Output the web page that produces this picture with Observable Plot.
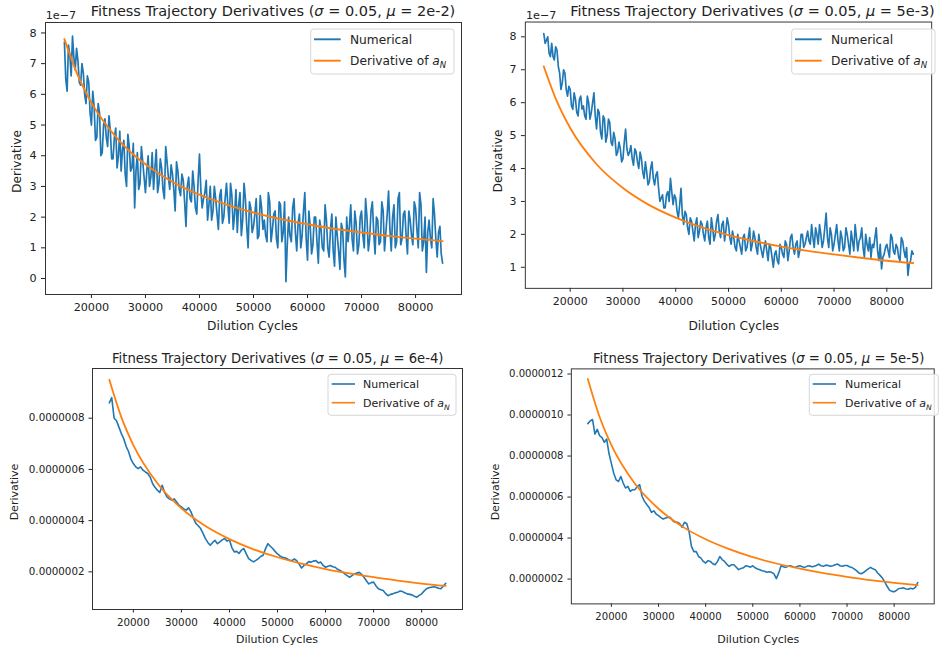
<!DOCTYPE html>
<html><head><meta charset="utf-8">
<script src="https://cdn.jsdelivr.net/npm/d3@7"></script>
<script src="https://cdn.jsdelivr.net/npm/@observablehq/plot@0.6"></script>
<style>
html,body{margin:0;padding:0;background:#fff;}
#fig{position:relative;width:940px;height:649px;overflow:hidden;background:#fff;font-family:"DejaVu Sans",sans-serif;}
.panel{position:absolute;}
#overlay{position:absolute;left:0;top:0;pointer-events:none;}
</style></head><body><div id="fig"></div>
<script>
// Dilution cycles sampled for the numerical derivative
const cycles = [
15000,15500,16000,16500,17000,17500,18000,18500,19000,19500,
20000,20500,21000,21500,22000,22500,23000,23500,24000,24500,
25000,25500,26000,26500,27000,27500,28000,28500,29000,29500,
30000,30500,31000,31500,32000,32500,33000,33500,34000,34500,
35000,35500,36000,36500,37000,37500,38000,38500,39000,39500,
40000,40500,41000,41500,42000,42500,43000,43500,44000,44500,
45000,45500,46000,46500,47000,47500,48000,48500,49000,49500,
50000,50500,51000,51500,52000,52500,53000,53500,54000,54500,
55000,55500,56000,56500,57000,57500,58000,58500,59000,59500,
60000,60500,61000,61500,62000,62500,63000,63500,64000,64500,
65000,65500,66000,66500,67000,67500,68000,68500,69000,69500,
70000,70500,71000,71500,72000,72500,73000,73500,74000,74500,
75000,75500,76000,76500,77000,77500,78000,78500,79000,79500,
80000,80500,81000,81500,82000,82500,83000,83500,84000,84500,
85000];
// extra in-between samples (used by the two noisy top panels)
const cyclesMid = [
15250,15750,16250,16750,17250,17750,18250,18750,19250,19750,
20250,20750,21250,21750,22250,22750,23250,23750,24250,24750,
25250,25750,26250,26750,27250,27750,28250,28750,29250,29750,
30250,30750,31250,31750,32250,32750,33250,33750,34250,34750,
35250,35750,36250,36750,37250,37750,38250,38750,39250,39750,
40250,40750,41250,41750,42250,42750,43250,43750,44250,44750,
45250,45750,46250,46750,47250,47750,48250,48750,49250,49750,
50250,50750,51250,51750,52250,52750,53250,53750,54250,54750,
55250,55750,56250,56750,57250,57750,58250,58750,59250,59750,
60250,60750,61250,61750,62250,62750,63250,63750,64250,64750,
65250,65750,66250,66750,67250,67750,68250,68750,69250,69750,
70250,70750,71250,71750,72250,72750,73250,73750,74250,74750,
75250,75750,76250,76750,77250,77750,78250,78750,79250,79750,
80250,80750,81250,81750,82250,82750,83250,83750,84250,84750];
// cycles for the analytic curve
const fitCycles = [15000,17500,20000,25000,30000,35000,40000,45000,50000,55000,60000,65000,70000,75000,80000,85000];
const xTickValues = [20000,30000,40000,50000,60000,70000,80000];

// values in units of 1e-7
const numerical_2e2 = [
7.7,6.1,7.3,7.9,6.8,7.1,6.3,6.7,5.7,6.4,
5.0,5.6,4.6,5.4,4.1,5.2,4.3,4.8,3.9,4.9,
4.0,3.5,4.5,3.0,4.3,3.6,2.3,4.1,3.1,3.8,
2.8,4.0,3.3,2.9,4.2,3.1,3.6,2.6,3.8,2.9,
3.4,2.2,3.5,2.7,3.2,1.7,3.3,2.5,3.0,2.1,
4.05,2.3,2.8,1.9,3.0,2.2,2.6,1.6,2.9,2.0,
3.1,1.8,2.7,2.1,1.5,2.8,1.9,2.6,1.0,2.3,
1.7,2.6,1.4,2.3,1.9,1.2,2.5,1.6,2.2,1.0,
2.4,1.5,-0.1,2.0,1.2,2.6,0.9,2.1,1.4,2.8,
0.6,1.7,1.1,2.0,0.5,1.6,0.9,1.9,0.7,2.1,
0.4,1.4,0.3,1.6,0.05,1.2,2.4,0.9,1.8,1.1,
2.2,1.0,2.0,1.3,2.5,0.8,1.9,1.2,2.2,1.5,
2.85,0.9,2.4,1.2,2.8,1.3,2.2,0.8,1.9,1.1,
2.3,1.0,2.4,1.2,0.2,1.9,1.0,2.1,0.7,1.7,
0.5];
const numericalMid_2e2 = [
6.5,7.6,6.6,7.2,7.5,6.4,7.0,6.0,6.6,5.4,
6.1,4.5,5.7,4.0,5.0,4.6,5.3,3.9,4.6,3.6,
4.8,4.2,3.4,4.7,3.5,4.4,3.5,2.9,4.3,3.3,
3.5,3.0,4.1,3.6,2.8,3.9,2.9,4.3,3.3,3.7,
2.9,3.8,2.9,3.4,2.5,3.0,2.6,3.5,2.3,3.2,
2.9,2.6,3.2,2.4,1.9,3.0,2.1,2.7,1.8,2.6,
2.4,3.1,1.6,2.9,2.4,1.4,3.1,1.7,2.5,1.5,
2.1,1.3,2.7,1.6,1.4,2.8,1.2,2.1,1.3,2.5,
1.2,2.5,1.1,1.4,2.3,1.5,1.8,1.0,2.2,1.3,
2.2,0.8,2.0,1.2,1.9,1.0,2.4,1.0,1.6,0.9,
2.0,0.9,1.8,0.6,2.0,1.7,1.3,2.2,0.8,2.0,
1.4,2.6,0.9,2.2,1.5,2.0,1.1,2.5,0.9,2.1,
1.6,2.0,1.0,2.6,1.1,2.1,1.4,2.2,1.4,2.5,
1.6,2.8,0.9,2.0,1.5,1.3,2.6,1.3,1.5,0.8];
const derivative_2e2 = [7.8,6.61,5.73,4.52,3.72,3.15,2.73,2.41,2.15,1.94,1.77,1.62,1.50,1.39,1.30,1.22];

const numerical_5e3 = [
8.1,7.9,7.5,7.8,7.3,7.6,6.9,6.6,6.9,6.2,
6.4,5.8,6.1,5.6,6.2,5.9,5.5,6.0,5.7,6.3,
5.2,5.7,4.9,5.5,5.0,5.4,4.7,4.9,4.5,4.6,
4.3,5.2,4.4,4.7,4.1,4.5,4.0,4.3,3.7,3.9,
3.6,4.2,3.5,3.9,3.0,3.2,2.8,3.3,3.7,2.9,
3.1,2.5,3.4,2.3,2.6,2.0,2.4,1.8,2.5,2.1,
2.3,1.8,2.4,1.7,2.2,2.0,2.6,1.9,2.4,2.1,
2.3,1.7,1.9,1.5,1.8,1.4,2.0,1.6,2.2,1.7,
1.9,1.4,1.7,1.3,1.8,1.2,1.6,1.0,1.5,1.1,
1.6,1.3,1.7,1.5,2.0,1.4,1.8,1.5,2.0,1.7,
2.1,1.7,1.9,2.2,1.7,2.0,1.8,2.65,1.6,2.0,
1.7,2.3,1.5,1.9,1.6,2.0,1.4,1.8,2.3,1.5,
1.9,1.6,2.0,1.5,1.3,1.6,2.2,1.2,0.95,1.4,
1.7,1.3,1.9,1.4,1.6,1.2,1.8,1.3,0.75,1.2,
1.4];
const numericalMid_5e3 = [
7.8,8.0,7.4,7.4,7.7,7.1,6.4,7.0,6.4,6.5,
5.9,6.3,5.7,6.1,5.8,5.6,6.2,5.5,6.0,5.6,
5.8,5.1,5.6,4.8,5.5,4.8,5.1,4.4,4.8,4.2,
4.8,4.6,4.5,4.3,4.6,4.2,4.5,3.9,4.2,3.5,
4.0,3.7,3.8,3.4,3.1,2.8,3.2,3.0,3.3,3.2,
2.7,2.9,2.6,2.7,2.2,2.5,2.1,2.3,1.9,2.4,
2.0,2.2,1.9,2.5,1.8,2.4,2.1,2.3,1.8,2.5,
1.9,2.1,1.6,2.0,1.6,1.9,1.5,1.9,1.5,2.1,
1.6,2.0,1.5,1.6,1.5,1.7,1.3,1.4,1.2,1.7,
1.4,1.8,1.2,1.9,1.6,1.7,1.3,2.0,1.6,1.9,
1.8,2.3,1.6,2.0,2.3,1.6,2.2,1.9,2.2,1.5,
2.0,1.8,2.1,1.5,2.2,1.7,2.1,1.5,1.9,1.8,
2.2,1.3,1.7,1.9,1.7,1.9,1.5,1.7,1.3,1.6,
1.5,2.0,1.5,1.7,1.3,1.9,1.5,1.6,1.1,1.5];
const derivative_5e3 = [7.10,6.03,5.23,4.13,3.41,2.89,2.51,2.21,1.98,1.79,1.63,1.50,1.39,1.29,1.20,1.13];

const numerical_6e4 = [
8.6,8.8,8.0,7.9,7.65,7.4,7.2,6.9,6.7,6.4,
6.23,6.1,6.03,6.1,5.97,5.9,5.84,5.7,5.45,5.3,
5.19,5.1,5.38,5.1,4.93,4.85,4.8,4.85,4.73,4.6,
4.54,4.45,4.41,4.5,4.34,4.1,3.89,3.8,3.69,3.5,
3.3,3.15,3.04,3.15,3.23,3.1,3.17,3.25,3.3,3.2,
3.25,2.95,2.78,2.8,2.72,2.85,2.91,2.7,2.52,2.45,
2.39,2.45,2.52,2.6,2.65,2.9,3.1,3.0,2.91,2.8,
2.7,2.62,2.57,2.55,2.51,2.45,2.44,2.5,2.44,2.3,
2.15,2.25,2.31,2.4,2.38,2.42,2.44,2.35,2.38,2.25,
2.18,2.22,2.25,2.2,2.18,2.1,2.05,2.0,1.92,1.85,
1.79,1.85,1.92,1.95,1.98,1.9,1.79,1.65,1.53,1.58,
1.6,1.45,1.34,1.3,1.27,1.15,1.07,1.12,1.14,1.18,
1.2,1.25,1.23,1.18,1.14,1.12,1.1,1.05,1.01,1.08,
1.14,1.25,1.34,1.38,1.4,1.42,1.4,1.36,1.34,1.45,
1.55];
const derivative_6e4 = [9.5,8.04,6.95,5.46,4.48,3.79,3.28,2.88,2.57,2.32,2.11,1.94,1.79,1.66,1.54,1.45];

const numerical_5e5 = [
9.58,9.71,9.78,9.07,9.3,8.99,8.9,8.67,8.83,8.11,
7.63,7.16,6.84,6.76,7.0,6.68,6.44,6.52,6.28,6.36,
6.36,6.52,6.6,6.04,5.8,5.64,5.49,5.25,5.33,5.17,
5.09,5.0,4.93,4.98,5.01,5.01,4.85,4.77,4.77,4.7,
4.53,4.77,4.7,4.29,3.58,3.34,3.34,3.1,3.02,2.86,
2.78,2.9,2.86,2.75,2.7,2.85,3.1,2.95,2.86,2.72,
2.62,2.7,2.7,2.58,2.46,2.52,2.55,2.65,2.62,2.58,
2.65,2.55,2.49,2.45,2.41,2.38,2.33,2.36,2.33,2.25,
2.02,2.3,2.65,2.6,2.57,2.62,2.65,2.6,2.57,2.62,
2.65,2.6,2.57,2.62,2.65,2.6,2.62,2.66,2.73,2.65,
2.62,2.68,2.66,2.62,2.65,2.7,2.73,2.65,2.62,2.66,
2.66,2.6,2.57,2.5,2.41,2.3,2.26,2.32,2.41,2.5,
2.57,2.5,2.45,2.3,2.18,2.05,1.86,1.65,1.46,1.4,
1.38,1.45,1.54,1.55,1.57,1.52,1.5,1.55,1.52,1.6,
1.83];
const derivative_5e5 = [11.76,9.90,8.53,6.65,5.43,4.57,3.94,3.46,3.07,2.76,2.51,2.29,2.11,1.95,1.82,1.70];

const muLabels = ["2e-2","5e-3","6e-4","5e-5"];

const fig = document.getElementById("fig");
const sci = d => String(d);
const dec = d => (d * 1e-7).toFixed(7);

const panels = [
  {left:0, top:0, w:470, h:340, ml:45, mr:9, mt:22, mb:46, y:[-0.52,8.34], yt:[0,1,2,3,4,5,6,7,8], fmt:sci, num:numerical_2e2, mid:numericalMid_2e2, fit:derivative_2e2, fs:11.2, sw:1.7, ts:4, tpx:5, tpy:5},
  {left:470, top:0, w:480, h:340, ml:56, mr:9, mt:22, mb:46, y:[0.36,8.45], yt:[1,2,3,4,5,6,7,8], fmt:sci, num:numerical_5e3, mid:numericalMid_5e3, fit:derivative_5e3, fs:11.2, sw:1.7, ts:4, tpx:5, tpy:5},
  {left:0, top:340, w:470, h:309, ml:92, mr:8, mt:28, mb:40, y:[0.53,9.94], yt:[2,4,6,8], fmt:dec, num:numerical_6e4, mid:null, fit:derivative_6e4, fs:10.3, sw:1.6, ts:3.5, tpx:6, tpy:4.5},
  {left:470, top:340, w:480, h:309, ml:103, mr:6.4, mt:29, mb:40, y:[0.79,12.25], yt:[2,4,6,8,10,12], fmt:dec, num:numerical_5e5, mid:null, fit:derivative_5e5, fs:10.3, sw:1.6, ts:3.5, tpx:6, tpy:4.5}
];

for (const p of panels) {
  let numData = cycles.map((c, i) => ({c, v: p.num[i]}));
  if (p.mid) numData = numData.concat(cyclesMid.map((c, i) => ({c, v: p.mid[i]})));
  numData.sort((a, b) => a.c - b.c);
  const fitData = fitCycles.map((c, i) => ({c, v: p.fit[i]}));
  const chart = Plot.plot({
    width: p.w, height: p.h,
    marginLeft: p.ml, marginRight: p.mr, marginTop: p.mt, marginBottom: p.mb,
    style: {fontFamily: '"DejaVu Sans", sans-serif', fontSize: p.fs + "px", color: "#222", background: "transparent", overflow: "visible"},
    x: {domain: [11500, 88500]},
    y: {domain: p.y},
    marks: [
      Plot.line(numData, {x: "c", y: "v", stroke: "#1f77b4", strokeWidth: p.sw, strokeLinejoin: "round"}),
      Plot.line(fitData, {x: "c", y: "v", stroke: "#ff7f0e", strokeWidth: p.sw + 0.2, curve: "monotone-x"}),
      Plot.axisX({ticks: xTickValues, tickFormat: sci, tickSize: p.ts, tickPadding: p.tpx, label: null}),
      Plot.axisY({ticks: p.yt, tickFormat: p.fmt, tickSize: p.ts, tickPadding: p.tpy, label: null}),
      Plot.frame({stroke: "#333", strokeWidth: 1})
    ]
  });
  const div = document.createElement("div");
  div.className = "panel";
  div.style.left = p.left + "px";
  div.style.top = p.top + "px";
  div.appendChild(chart);
  fig.appendChild(div);
}

// Overlay: titles, axis labels, offset text, legends
const svg = d3.select(fig).append("svg").attr("id", "overlay")
  .attr("width", 940).attr("height", 649)
  .style("font-family", '"DejaVu Sans", sans-serif').attr("fill", "#222");

const titles = [
  {x:273, y:15.7, fs:14.5},
  {x:752.5, y:15.7, fs:14.5},
  {x:277.7, y:363.3, fs:13.2},
  {x:758.7, y:363.3, fs:13.2}
];
titles.forEach((t, i) => {
  const tx = svg.append("text").attr("x", t.x).attr("y", t.y).attr("text-anchor", "middle").attr("font-size", t.fs);
  tx.append("tspan").text("Fitness Trajectory Derivatives (");
  tx.append("tspan").attr("font-style", "italic").text("σ");
  tx.append("tspan").text(" = 0.05, ");
  tx.append("tspan").attr("font-style", "italic").text("μ");
  tx.append("tspan").text(" = " + muLabels[i] + ")");
});

// offset text for top panels
[{x:45.7, y:19}, {x:526, y:19}].forEach(o => {
  svg.append("text").attr("x", o.x).attr("y", o.y).attr("font-size", 11.2).text("1e\u22127");
});

// x labels
[{x:252.5, y:330, fs:12.2}, {x:733.8, y:330, fs:12.2}, {x:277, y:642.5, fs:11}, {x:758.3, y:642.5, fs:11}].forEach(l => {
  svg.append("text").attr("x", l.x).attr("y", l.y).attr("text-anchor", "middle").attr("font-size", l.fs).text("Dilution Cycles");
});
// y labels
[{x:20.5, y:161.5, fs:12.2}, {x:501.5, y:161, fs:12.2}, {x:18.3, y:492, fs:11}, {x:499.3, y:492, fs:11}].forEach(l => {
  svg.append("text").attr("transform", `translate(${l.x},${l.y}) rotate(-90)`).attr("text-anchor", "middle").attr("font-size", l.fs).text("Derivative");
});

// legends
const legends = [
  {x:310.7, y:29, w:143.3, h:45, s0:314, s1:340.7, tx:350, r1:39.3, r2:60.7, b1:44, b2:65.3, fs:12.2, sw:1.9},
  {x:791.7, y:29, w:143.3, h:45, s0:795, s1:821.7, tx:831, r1:39.3, r2:60.7, b1:44, b2:65.3, fs:12.2, sw:1.9},
  {x:328, y:374.3, w:128, h:41, s0:331.7, s1:355, tx:363, r1:384, r2:402.7, b1:388.3, b2:407, fs:11, sw:1.6},
  {x:809.3, y:374.3, w:129, h:41, s0:812.7, s1:836, tx:845, r1:384, r2:402.7, b1:388.3, b2:407, fs:11, sw:1.6}
];
legends.forEach(L => {
  const g = svg.append("g");
  g.append("rect").attr("x", L.x).attr("y", L.y).attr("width", L.w).attr("height", L.h)
    .attr("rx", 3).attr("fill", "rgba(255,255,255,0.8)").attr("stroke", "#d6d6d6").attr("stroke-width", 1);
  g.append("line").attr("x1", L.s0).attr("x2", L.s1).attr("y1", L.r1).attr("y2", L.r1).attr("stroke", "#1f77b4").attr("stroke-width", L.sw);
  g.append("line").attr("x1", L.s0).attr("x2", L.s1).attr("y1", L.r2).attr("y2", L.r2).attr("stroke", "#ff7f0e").attr("stroke-width", L.sw);
  g.append("text").attr("x", L.tx).attr("y", L.b1).attr("font-size", L.fs).text("Numerical");
  const t2 = g.append("text").attr("x", L.tx).attr("y", L.b2).attr("font-size", L.fs);
  t2.append("tspan").text("Derivative of ");
  t2.append("tspan").attr("font-style", "italic").text("a");
  t2.append("tspan").attr("font-style", "italic").attr("font-size", L.fs * 0.7).attr("dy", 2.5).text("N");
});
</script></body></html>
